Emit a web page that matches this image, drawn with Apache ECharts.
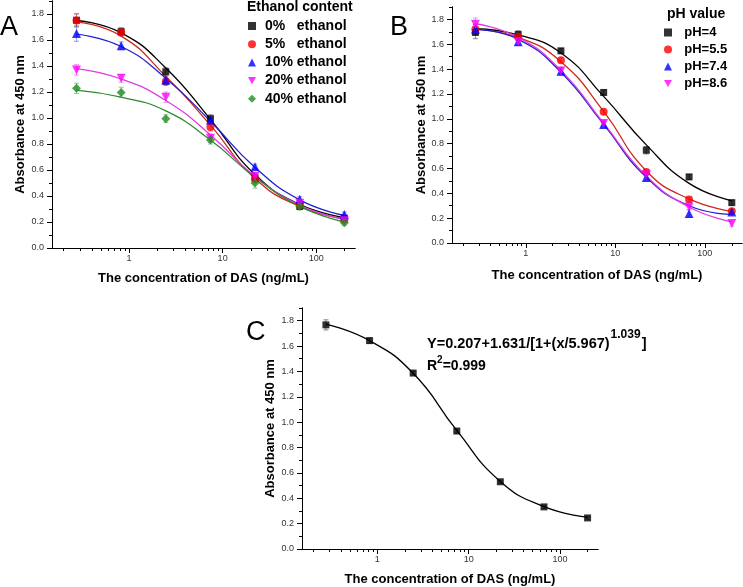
<!DOCTYPE html>
<html><head><meta charset="utf-8">
<script src="https://cdn.jsdelivr.net/npm/echarts@6/dist/echarts.min.js"></script>
<style>html,body{margin:0;padding:0;background:#fff}#c{width:743px;height:587px}</style>
</head><body><div id="c"></div>
<script>
// ---------- data ----------
const concentration = [0.274, 0.823, 2.47, 7.41, 22.2, 66.7, 200];
const xMajorTicks = [1, 10, 100];
const xMinorTicks = [0.2,0.3,0.4,0.5,0.6,0.7,0.8,0.9,2,3,4,5,6,7,8,9,20,30,40,50,60,70,80,90,200];
const yMajorTicks = [0,0.2,0.4,0.6,0.8,1.0,1.2,1.4,1.6,1.8];
const yMinorTicks = [0.1,0.3,0.5,0.7,0.9,1.1,1.3,1.5,1.7,1.9];

// Panel A: ethanol content
const ethanolNames = ['0%   ethanol','5%   ethanol','10% ethanol','20% ethanol','40% ethanol'];
const ethanol0  = [1.752, 1.664, 1.356, 0.995, 0.540, 0.320, 0.230];
const ethanol5  = [1.750, 1.660, 1.280, 0.930, 0.530, 0.330, 0.220];
const ethanol10 = [1.650, 1.556, 1.290, 0.985, 0.625, 0.375, 0.257];
const ethanol20 = [1.370, 1.305, 1.160, 0.845, 0.550, 0.345, 0.210];
const ethanol40 = [1.228, 1.197, 0.995, 0.830, 0.500, 0.322, 0.195];
const ethanol0Err  = [0.05, 0.03, 0.03, 0.03, 0.03, 0.02, 0.02];
const ethanol5Err  = [0.05, 0.03, 0.03, 0.03, 0.03, 0.02, 0.02];
const ethanol10Err = [0.06, 0.03, 0.03, 0.02, 0.02, 0.02, 0.02];
const ethanol20Err = [0.04, 0.03, 0.04, 0.03, 0.03, 0.02, 0.02];
const ethanol40Err = [0.04, 0.04, 0.03, 0.03, 0.04, 0.03, 0.02];
const ethanol0Fit  = [1.750, 1.655, 1.385, 0.990, 0.565, 0.335, 0.235];
const ethanol5Fit  = [1.740, 1.630, 1.320, 0.945, 0.535, 0.320, 0.225];
const ethanol10Fit = [1.645, 1.550, 1.305, 0.975, 0.620, 0.370, 0.250];
const ethanol20Fit = [1.380, 1.300, 1.135, 0.870, 0.550, 0.330, 0.220];
const ethanol40Fit = [1.215, 1.160, 1.055, 0.830, 0.545, 0.320, 0.200];

// Panel B: pH value
const phNames = ['pH=4','pH=5.5','pH=7.4','pH=8.6'];
const ph4  = [1.695, 1.679, 1.547, 1.212, 0.747, 0.532, 0.325];
const ph55 = [1.720, 1.660, 1.472, 1.056, 0.572, 0.350, 0.255];
const ph74 = [1.720, 1.620, 1.383, 0.955, 0.527, 0.237, 0.250];
const ph86 = [1.762, 1.620, 1.385, 0.962, 0.550, 0.290, 0.156];
const ph4Err  = [0.05, 0.03, 0.02, 0.02, 0.03, 0.02, 0.02];
const ph55Err = [0.04, 0.03, 0.02, 0.02, 0.02, 0.02, 0.02];
const ph74Err = [0.04, 0.03, 0.03, 0.02, 0.02, 0.03, 0.02];
const ph86Err = [0.05, 0.03, 0.03, 0.02, 0.02, 0.02, 0.02];
const ph4Fit  = [1.725, 1.675, 1.530, 1.180, 0.790, 0.480, 0.340];
const ph55Fit = [1.720, 1.655, 1.460, 1.060, 0.580, 0.355, 0.255];
const ph74Fit = [1.720, 1.640, 1.375, 0.955, 0.530, 0.300, 0.230];
const ph86Fit = [1.765, 1.655, 1.390, 0.965, 0.540, 0.290, 0.170];

// Panel C: optimized standard curve
const standard    = [1.767, 1.643, 1.387, 0.930, 0.530, 0.332, 0.245];
const standardErr = [0.04, 0.02, 0.015, 0.015, 0.012, 0.012, 0.01];
const standardFit = [1.772, 1.642, 1.385, 0.935, 0.532, 0.334, 0.250];

// ---------- styling ----------
const FF = "'Liberation Sans', Arial, sans-serif";
const xMin = 0.15, xMax = 260;
const INV_TRIANGLE = 'path://M0,0 L10,0 L5,9 Z';
const grids = [
  {left: 52,  top: 1,   width: 303, height: 247},
  {left: 452, top: 7,   width: 290, height: 236},
  {left: 302, top: 308, width: 296, height: 241}
];
const xNameGap = [24, 26, 24];
const yNameGap = [25, 23, 25];

const xAxes = [], yAxes = [];
grids.forEach((g, i) => {
  xAxes.push({
    type: 'log', logBase: 10, gridIndex: i, min: xMin, max: xMax, position: 'bottom',
    axisLine: {show: true, onZero: false, lineStyle: {color: '#000', width: 1}},
    axisTick: {show: true, customValues: xMajorTicks, length: 5, lineStyle: {color: '#000', width: 1}},
    axisLabel: {customValues: xMajorTicks, fontSize: 9, color: '#333', margin: 6, fontFamily: FF},
    splitLine: {show: false},
    name: 'The concentration of DAS (ng/mL)', nameLocation: 'middle', nameGap: xNameGap[i],
    nameTextStyle: {fontSize: 13, fontWeight: 'bold', color: '#000', fontFamily: FF}
  });
  xAxes.push({
    type: 'log', logBase: 10, gridIndex: i, min: xMin, max: xMax, position: 'bottom',
    axisLine: {show: true, onZero: false, lineStyle: {color: '#000', width: 1}},
    axisTick: {show: true, customValues: xMinorTicks, length: 3, lineStyle: {color: '#000', width: 1}},
    axisLabel: {show: true, customValues: xMinorTicks, formatter: () => ''},
    splitLine: {show: false}
  });
  yAxes.push({
    type: 'value', gridIndex: i, min: 0, max: 1.9, position: 'left',
    axisLine: {show: true, onZero: false, lineStyle: {color: '#000', width: 1}},
    axisTick: {show: true, customValues: yMajorTicks, length: 5, lineStyle: {color: '#000', width: 1}},
    axisLabel: {customValues: yMajorTicks, formatter: v => Number(v).toFixed(1), fontSize: 9, color: '#333', margin: 8, fontFamily: FF},
    splitLine: {show: false},
    name: 'Absorbance at 450 nm', nameLocation: 'middle', nameGap: yNameGap[i],
    nameTextStyle: {fontSize: 13, fontWeight: 'bold', color: '#000', fontFamily: FF}
  });
  yAxes.push({
    type: 'value', gridIndex: i, min: 0, max: 1.9, position: 'left',
    axisLine: {show: true, onZero: false, lineStyle: {color: '#000', width: 1}},
    axisTick: {show: true, customValues: yMinorTicks, length: 3, lineStyle: {color: '#000', width: 1}},
    axisLabel: {show: true, customValues: yMinorTicks, formatter: () => ''},
    splitLine: {show: false}
  });
});

function renderErr(params, api) {
  const x = api.value(0), lo = api.value(1), hi = api.value(2);
  const pLo = api.coord([x, lo]), pHi = api.coord([x, hi]);
  const w = 2.5;
  const style = {stroke: api.visual('color'), lineWidth: 1, fill: null};
  return {type: 'group', children: [
    {type: 'line', shape: {x1: pLo[0], y1: pLo[1], x2: pHi[0], y2: pHi[1]}, style: style},
    {type: 'line', shape: {x1: pLo[0]-w, y1: pLo[1], x2: pLo[0]+w, y2: pLo[1]}, style: style},
    {type: 'line', shape: {x1: pHi[0]-w, y1: pHi[1], x2: pHi[0]+w, y2: pHi[1]}, style: style}
  ]};
}

const series = [];
function addGroup(panel, name, vals, errs, fit, color, lineColor, errColor, symbol, size) {
  const xi = panel * 2, yi = panel * 2;
  series.push({
    type: 'custom', name: name + ' err', xAxisIndex: xi, yAxisIndex: yi, silent: true, z: 2,
    itemStyle: {color: errColor}, renderItem: renderErr,
    data: concentration.map((c, k) => [c, vals[k] - errs[k], vals[k] + errs[k]])
  });
  series.push({
    type: 'line', name: name + ' fit', xAxisIndex: xi, yAxisIndex: yi, silent: true, z: 3,
    showSymbol: false, smooth: 0.5,
    lineStyle: {color: lineColor, width: 1.3},
    data: concentration.map((c, k) => [c, fit[k]])
  });
  series.push({
    type: 'scatter', name: name, xAxisIndex: xi, yAxisIndex: yi, z: 4,
    symbol: symbol, symbolSize: size,
    itemStyle: {color: color},
    data: concentration.map((c, k) => [c, vals[k]])
  });
}

addGroup(0, ethanolNames[0], ethanol0,  ethanol0Err,  ethanol0Fit,  '#000000', '#000000', 'rgba(90,90,90,0.7)', 'rect', 7);
addGroup(0, ethanolNames[1], ethanol5,  ethanol5Err,  ethanol5Fit,  '#ff0000', '#cc2a1e', 'rgba(220,90,90,0.6)', 'circle', 8);
addGroup(0, ethanolNames[2], ethanol10, ethanol10Err, ethanol10Fit, '#0000ff', '#1f1fd6', 'rgba(90,90,220,0.6)', 'triangle', 9);
addGroup(0, ethanolNames[3], ethanol20, ethanol20Err, ethanol20Fit, '#ff00ff', '#e03ce0', 'rgba(220,90,220,0.6)', INV_TRIANGLE, 9);
addGroup(0, ethanolNames[4], ethanol40, ethanol40Err, ethanol40Fit, '#1e8c1e', '#2e8b2e', 'rgba(90,160,90,0.6)', 'diamond', 9);

addGroup(1, phNames[0], ph4,  ph4Err,  ph4Fit,  '#000000', '#000000', 'rgba(90,90,90,0.7)', 'rect', 7);
addGroup(1, phNames[1], ph55, ph55Err, ph55Fit, '#ff0000', '#cc2a1e', 'rgba(220,90,90,0.6)', 'circle', 8);
addGroup(1, phNames[2], ph74, ph74Err, ph74Fit, '#0000ff', '#1f1fd6', 'rgba(90,90,220,0.6)', 'triangle', 9);
addGroup(1, phNames[3], ph86, ph86Err, ph86Fit, '#ff00ff', '#e03ce0', 'rgba(220,90,220,0.6)', INV_TRIANGLE, 9);

addGroup(2, 'standard', standard, standardErr, standardFit, '#000000', '#000000', 'rgba(90,90,90,0.7)', 'rect', 7);

const boldText = (size) => ({fontSize: size, fontWeight: 'bold', color: '#000', fontFamily: FF});
const letterText = {fontSize: 27, fontWeight: 'normal', color: '#000', fontFamily: FF};

const option = {
  animation: false,
  backgroundColor: '#fff',
  grid: grids.map(g => Object.assign({containLabel: false}, g)),
  xAxis: xAxes,
  yAxis: yAxes,
  legend: [
    {data: ethanolNames, orient: 'vertical', left: 248, top: 19, padding: 0,
     itemWidth: 8, itemHeight: 8, itemGap: 4.2, selectedMode: false,
     formatter: n => ' ' + n, textStyle: boldText(14)},
    {data: phNames, orient: 'vertical', left: 664, top: 26, padding: 0,
     itemWidth: 8, itemHeight: 8, itemGap: 4, selectedMode: false,
     formatter: n => '  ' + n, textStyle: boldText(13)}
  ],
  title: [
    {text: 'Ethanol content', left: 247, top: 0, padding: 0, textStyle: boldText(14)},
    {text: 'pH value', left: 667, top: 7, padding: 0, textStyle: boldText(14)},
    {text: 'A', left: 0, top: 14, padding: 0, textStyle: letterText},
    {text: 'B', left: 390, top: 14, padding: 0, textStyle: letterText},
    {text: 'C', left: 246, top: 319, padding: 0, textStyle: letterText},
    {text: '{n|Y=0.207+1.631/[1+(x/5.967)}{s|1.039}{n|]}', left: 427, top: 325, padding: 0,
     textStyle: {rich: {
       n: {fontSize: 14.5, fontWeight: 'bold', color: '#000', fontFamily: FF, lineHeight: 26, verticalAlign: 'bottom'},
       s: {fontSize: 12, fontWeight: 'bold', color: '#000', fontFamily: FF, verticalAlign: 'top', padding: [4, 1, 0, 1]}
     }}},
    {text: '{n|R}{s|2}{n|=0.999}', left: 427, top: 353, padding: 0,
     textStyle: {rich: {
       n: {fontSize: 14, fontWeight: 'bold', color: '#000', fontFamily: FF, lineHeight: 20, verticalAlign: 'bottom'},
       s: {fontSize: 10, fontWeight: 'bold', color: '#000', fontFamily: FF, verticalAlign: 'top', padding: [2, 0, 0, 0]}
     }}}
  ],
  series: series
};

const chart = echarts.init(document.getElementById('c'), null, {renderer: 'canvas'});
chart.setOption(option);
</script>
</body></html>
